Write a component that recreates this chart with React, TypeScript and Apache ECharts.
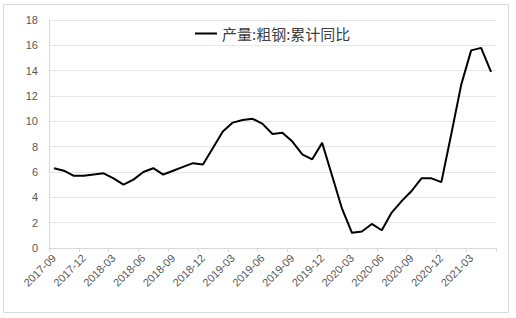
import React, { useEffect, useRef } from "react";
import * as echarts from "echarts";

const categories = [
  "2017-09", "2017-10", "2017-11", "2017-12",
  "2018-01", "2018-02", "2018-03", "2018-04", "2018-05", "2018-06",
  "2018-07", "2018-08", "2018-09", "2018-10", "2018-11", "2018-12",
  "2019-01", "2019-02", "2019-03", "2019-04", "2019-05", "2019-06",
  "2019-07", "2019-08", "2019-09", "2019-10", "2019-11", "2019-12",
  "2020-01", "2020-02", "2020-03", "2020-04", "2020-05", "2020-06",
  "2020-07", "2020-08", "2020-09", "2020-10", "2020-11", "2020-12",
  "2021-01", "2021-02", "2021-03", "2021-04", "2021-05",
];

const steelYoY = [
  6.3, 6.1, 5.7, 5.7,
  5.8, 5.9, 5.5, 5.0, 5.4, 6.0,
  6.3, 5.8, 6.1, 6.4, 6.7, 6.6,
  7.9, 9.2, 9.9, 10.1, 10.2, 9.8,
  9.0, 9.1, 8.4, 7.4, 7.0, 8.3,
  5.7, 3.1, 1.2, 1.3, 1.9, 1.4,
  2.8, 3.7, 4.5, 5.5, 5.5, 5.2,
  9.0, 12.9, 15.6, 15.8, 13.9,
];

const seriesName = "产量:粗钢:累计同比";

export default function App() {
  const ref = useRef<HTMLDivElement>(null);
  useEffect(() => {
    if (!ref.current) return;
    const chart = echarts.init(ref.current, null, { renderer: "svg" });
    const font = "'Liberation Sans', Arial, 'Noto Sans CJK SC', sans-serif";
    chart.setOption({
      animation: false,
      backgroundColor: "#ffffff",
      graphic: [
        {
          type: "rect",
          shape: { x: 3.5, y: 4.5, width: 505, height: 308 },
          style: { fill: "none", stroke: "#d9d9d9", lineWidth: 1 },
          silent: true,
        },
      ],
      legend: {
        show: true,
        left: 190,
        top: 21,
        icon: "rect",
        itemWidth: 22,
        itemHeight: 2,
        itemGap: 6,
        textStyle: {
          fontSize: 15,
          color: "#404040",
          fontFamily: "'Noto Sans CJK SC', sans-serif",
        },
        data: [seriesName],
      },
      grid: { left: 49, right: 20, top: 20, bottom: 70, containLabel: false },
      xAxis: {
        type: "category",
        data: categories,
        boundaryGap: true,
        axisLine: { show: true, lineStyle: { color: "#d9d9d9", width: 1 } },
        axisTick: {
          show: true,
          interval: 2,
          alignWithLabel: false,
          length: 4,
          lineStyle: { color: "#d9d9d9" },
        },
        axisLabel: {
          interval: 2,
          rotate: 45,
          fontSize: 11,
          color: "#595959",
          fontFamily: font,
          margin: 8,
        },
        splitLine: { show: false },
      },
      yAxis: {
        type: "value",
        min: 0,
        max: 18,
        interval: 2,
        axisLine: { show: true, lineStyle: { color: "#d9d9d9", width: 1 } },
        axisTick: { show: false },
        axisLabel: {
          fontSize: 11,
          color: "#595959",
          fontFamily: font,
          margin: 11,
        },
        splitLine: { show: true, lineStyle: { color: "#e6e6e6", width: 1 } },
      },
      series: [
        {
          name: seriesName,
          type: "line",
          data: steelYoY,
          symbol: "none",
          showSymbol: false,
          lineStyle: { color: "#000000", width: 2 },
          itemStyle: { color: "#000000" },
        },
      ],
    });
    return () => chart.dispose();
  }, []);
  return (
    <div
      ref={ref}
      style={{ position: "absolute", left: 0, top: 0, width: 516, height: 318 }}
    />
  );
}
